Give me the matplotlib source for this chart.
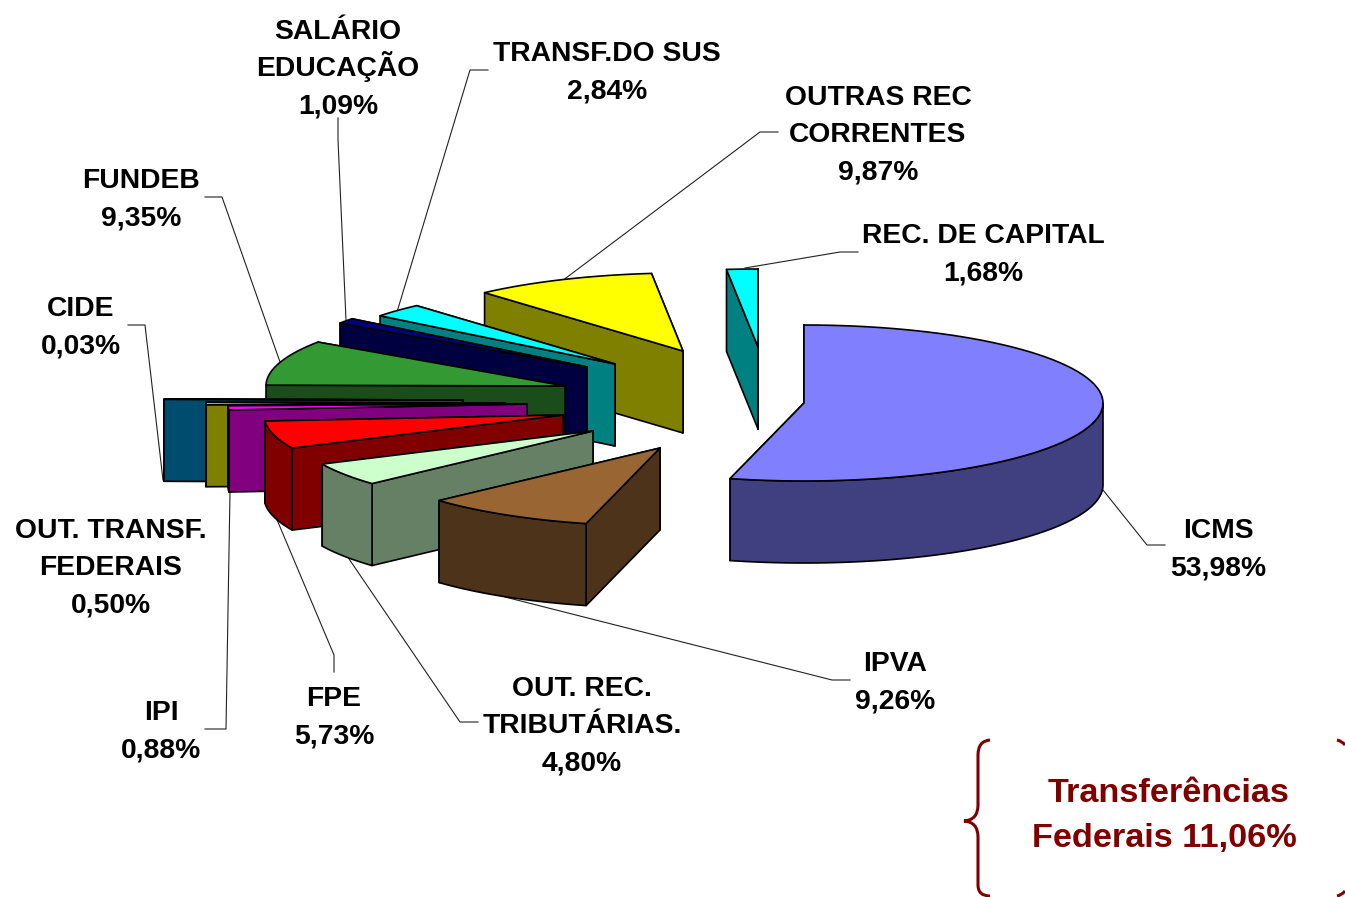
import numpy as np
import matplotlib
matplotlib.use("Agg")
import matplotlib.pyplot as plt
from matplotlib.patches import Polygon, PathPatch
from matplotlib.path import Path

plt.rcParams['font.family'] = ['Liberation Sans', 'DejaVu Sans']

# ---- data ----
categories = ["ICMS", "IPVA", "OUT. REC.\nTRIBUTÁRIAS.", "FPE", "IPI",
              "OUT. TRANSF.\nFEDERAIS", "CIDE", "FUNDEB", "SALÁRIO\nEDUCAÇÃO",
              "TRANSF.DO SUS", "OUTRAS REC\nCORRENTES", "REC. DE CAPITAL"]
shares = [53.98, 9.26, 4.80, 5.73, 0.88, 0.50, 0.03, 9.35, 1.09, 2.84, 9.87, 1.68]
note_lines = ["Transferências", "Federais 11,06%"]

# ---- style ----
top_colors = ["#8080FF", "#996633", "#CCFFCC", "#FF0000", "#FF00FF", "#FFFF00",
              "#0099CC", "#339933", "#000080", "#00FFFF", "#FFFF00", "#00FFFF"]
side_colors = ["#404080", "#4D331A", "#668066", "#800000", "#800080", "#808000",
               "#004C6E", "#1A4D1A", "#000040", "#008080", "#808000", "#008080"]
RX, RY, DEPTH = 299, 78, 82
CX, CY = 804, 403
# per-slice explosion of the pie, in pixels relative to the pie centre
explode_dx = [0, -144, -211, -241, -277, -299, -341, -239, -217, -189, -121, -46]
explode_dy = [0, 45, 28, 12, 1, 0, -3, -17, -36, -39, -52, -56]
# label centres, leader-line routes (pixels on the canvas)
label_x = [1218, 895, 582, 334, 161, 111, 81, 141, 338, 607, 878, 983]
label_y = [547, 680, 723, 715, 729, 565, 325, 197, 66, 70, 132, 252]
LINE_PITCH = 37.3
leaders = [
    [(1103, 490), (1147, 545), (1165, 545)],
    [(505, 597), (832, 680), (850, 680)],
    [(345, 553), (460, 722), (478, 722)],
    [(275, 515), (334, 655), (334, 672)],
    [(230, 492), (226, 729), (205, 729)],
    None,
    [(163, 480), (145, 325), (128, 325)],
    [(280, 362), (222, 197), (205, 197)],
    [(346, 320), (338, 140), (338, 118)],
    [(397, 312), (470, 70), (488, 70)],
    [(562, 281), (760, 132), (778, 132)],
    [(745, 268), (840, 252), (858, 252)],
]
EDGE = dict(edgecolor="black", linewidth=1.2, joinstyle="round")

fig = plt.figure(figsize=(13.45, 8.97), dpi=100)
ax = fig.add_axes([0, 0, 1, 1])
ax.set_xlim(0, 1345)
ax.set_ylim(897, 0)
ax.axis("off")


def rim(apex, deg):
    a = np.radians(deg)
    return np.column_stack((apex[0] + RX * np.sin(a), apex[1] - RY * np.cos(a)))


def draw_slice(start, end, dx, dy, top, side, z):
    apex = (CX + dx, CY + dy)
    drop = np.array([0, DEPTH])
    for edge_angle in (end, start):  # radial cut faces, back one first
        p = rim(apex, [edge_angle])[0]
        ax.add_patch(Polygon([apex, p, p + drop, np.array(apex) + drop],
                             closed=True, facecolor=side, zorder=z, **EDGE))
    lo, hi = max(start, 90), min(end, 270)
    if hi > lo:  # outer curved wall, only where it faces the viewer
        arc = rim(apex, np.linspace(lo, hi, 80))
        ax.add_patch(Polygon(np.vstack((arc, (arc + drop)[::-1])), closed=True,
                             facecolor=side, zorder=z, **EDGE))
    arc = rim(apex, np.linspace(start, end, 80))
    ax.add_patch(Polygon(np.vstack(([apex], arc)), closed=True,
                         facecolor=top, zorder=z, **EDGE))


bounds = np.concatenate(([0], np.cumsum(shares))) / sum(shares) * 360
draw_order = [11, 0, 10, 9, 8, 7, 6, 5, 4, 3, 2, 1]
for z, i in enumerate(draw_order, start=2):
    draw_slice(bounds[i], bounds[i + 1], explode_dx[i], explode_dy[i],
               top_colors[i], side_colors[i], z)

for route in leaders:
    if route:
        xs, ys = zip(*route)
        ax.plot(xs, ys, color="#222222", lw=0.8, zorder=1)

for name, v, x, y in zip(categories, shares, label_x, label_y):
    value = f"{v:.2f}".replace(".", ",") + "%"
    lines = name.split("\n") + [value]
    first = y - LINE_PITCH * (len(lines) - 1) / 2
    for k, line in enumerate(lines):
        ax.text(x, first + k * LINE_PITCH + 10, line, ha="center", va="baseline",
                fontsize=20.3, fontweight="bold", color="black", zorder=30)

# bracket + note
MAROON = "#800000"
left = [(990, 740), (978, 741), (978, 755), (978, 805), (978, 820), (964, 821),
        (978, 822), (978, 837), (978, 885), (978, 896), (990, 896)]
codes = [Path.MOVETO, Path.CURVE3, Path.CURVE3, Path.LINETO, Path.CURVE3, Path.CURVE3,
         Path.CURVE3, Path.CURVE3, Path.LINETO, Path.CURVE3, Path.CURVE3]
ax.add_patch(PathPatch(Path(left, codes), facecolor="none", edgecolor=MAROON, lw=2.2, zorder=5))
for pts in ([(1337, 740), (1342, 741), (1345, 745)], [(1337, 896), (1342, 895), (1345, 891)]):
    ax.add_patch(PathPatch(Path(pts, [Path.MOVETO, Path.CURVE3, Path.CURVE3]),
                           facecolor="none", edgecolor=MAROON, lw=2.2, zorder=5))
for line, x, y in zip(note_lines, (1169, 1164), (802, 847)):
    ax.text(x, y, line, ha="center", va="baseline", fontsize=24.7, fontweight="bold",
            color=MAROON, zorder=30)

fig.savefig("out.png", dpi=100, facecolor="white")
